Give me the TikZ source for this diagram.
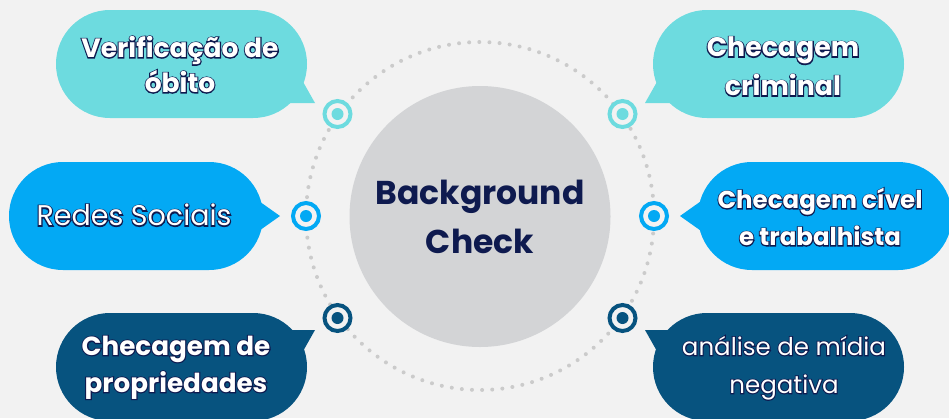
\documentclass[tikz,border=0pt]{standalone}
\usepackage{fontspec}
\setmainfont{Poppins}
\definecolor{bg}{HTML}{F2F2F2}
\definecolor{cteal}{HTML}{6DDBDF}
\definecolor{cblue}{HTML}{03A9F4}
\definecolor{cdark}{HTML}{07537F}
\definecolor{navy}{HTML}{0E1A4F}
\definecolor{hubgray}{HTML}{D3D4D6}
\definecolor{dotgray}{HTML}{CBCBCB}
\newcommand{\ol}[1]{\leavevmode\rlap{\addfontfeatures{FakeBold=8}\color{navy}#1}#1}
\begin{document}
\begin{tikzpicture}[x=1pt,y=-1pt,
  bubble/.style={rectangle, rounded corners=53.9pt, minimum width=251pt, minimum height=108pt, inner sep=0pt},
  label/.style={inner sep=0pt, align=center, text=white},
  marker/.style={circle, draw=#1, line width=4pt, fill=bg, minimum size=26pt, inner sep=0pt},
  hub/.style={circle, fill=hubgray, minimum size=261pt, inner sep=0pt, align=center, text=navy,
    font=\fontsize{33}{49}\selectfont\bfseries}]
\useasboundingbox (0,0) rectangle (949,418);
\fill[bg] (0,0) rectangle (949,418);
% dotted ring
\draw[dotgray, line width=4pt, line cap=round, dash pattern=on 0pt off 10.15pt] (480,216) circle (174pt);
% hub
\node[hub] (hub) at (480,216.5) {Background\\Check};
% markers
\node[marker=cteal] (m1) at (337.5,114) {};
\node[marker=cteal] (m2) at (622.5,114) {};
\node[marker=cblue] (m3) at (306,216) {};
\node[marker=cblue] (m4) at (654,216) {};
\node[marker=cdark] (m5) at (337.5,318) {};
\node[marker=cdark] (m6) at (622.5,318) {};
\fill[cteal] (m1.center) circle (6pt);
\fill[cteal] (m2.center) circle (6pt);
\fill[cblue] (m3.center) circle (6pt);
\fill[cblue] (m4.center) circle (6pt);
\fill[cdark] (m5.center) circle (6pt);
\fill[cdark] (m6.center) circle (6pt);
% tails
\fill[cteal] (302,80) -- (315,103) -- (288,103) -- cycle;
\fill[cteal] (658,80) -- (645,103) -- (672,103) -- cycle;
\fill[cblue] (256,199) -- (280,216) -- (256,233) -- cycle;
\fill[cblue] (704,199) -- (680,216) -- (704,233) -- cycle;
\fill[cdark] (288,330) -- (315,330) -- (302,353) -- cycle;
\fill[cdark] (672,330) -- (645,330) -- (658,353) -- cycle;
% bubbles
\node[bubble, fill=cteal] (b1) at (181.5,64) {};
\node[bubble, fill=cteal] (b2) at (778.5,64) {};
\node[bubble, fill=cblue, minimum width=254pt] (b3) at (136,216) {};
\node[bubble, fill=cblue, minimum width=254pt] (b4) at (825,216) {};
\node[bubble, fill=cdark] (b5) at (181.5,367) {};
\node[bubble, fill=cdark] (b6) at (778.5,367) {};
% labels
\node[label, font=\fontsize{26.5}{35}\selectfont\bfseries] (t1) at (180,64.5) {\ol{Verificação de}\\\ol{óbito}};
\node[label, font=\fontsize{26.8}{39}\selectfont\bfseries] (t2) at (783,66.5) {\ol{Checagem}\\\ol{criminal}};
\node[label, font=\fontsize{28.5}{36}\selectfont] (t3) at (134,215) {\ol{Redes Sociais}};
\node[label, font=\fontsize{24.5}{37}\selectfont\bfseries] (t4) at (820,217) {\ol{Checagem cível}\\\ol{e trabalhista}};
\node[label, font=\fontsize{26.2}{37}\selectfont\bfseries] (t5) at (176,367.5) {\ol{Checagem de}\\\ol{propriedades}};
\node[label, font=\fontsize{24.5}{38}\selectfont] (t6) at (784,368) {\ol{análise de mídia}\\\ol{negativa}};
\end{tikzpicture}
\end{document}
